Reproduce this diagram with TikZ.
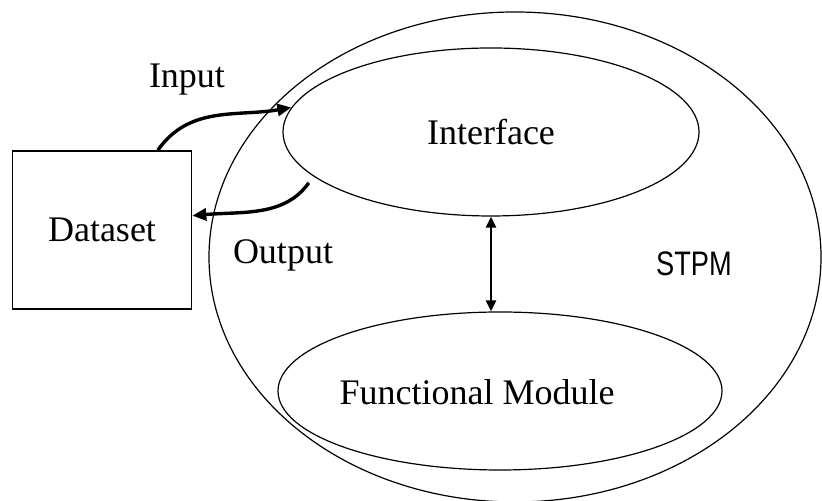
\documentclass[tikz,border=0pt]{standalone}
\usepackage{fontspec}
\setmainfont{Liberation Serif}
\newfontfamily\labelsans{Liberation Sans}
\usetikzlibrary{shapes.geometric, arrows.meta, positioning, calc}
\tikzset{
    module/.style={ellipse, draw, line width=0.6pt, inner sep=0pt},
    databox/.style={rectangle, draw, line width=0.8pt, inner sep=0pt},
    flow/.style={-{Triangle[length=7pt, width=6pt]}, line width=1.7pt},
    link/.style={{Triangle[length=5.5pt, width=5pt]}-{Triangle[length=5.5pt, width=5pt]}, line width=1.2pt}
}

\begin{document}
\begin{tikzpicture}[x=0.5pt, y=0.5pt, font=\fontsize{18}{21}\selectfont]
    \useasboundingbox (0,0) rectangle (822,501);

    \node[module, minimum width=306pt, minimum height=245pt] (stpm) at (515,244) {};
    \node[module, minimum width=208pt, minimum height=84pt] (iface) at (491,369) {Interface};
    \node[module, minimum width=222pt, minimum height=79pt] (func) at (500,110) {};
    \node (funclabel) at (477,109) {Functional Module};
    \node[databox, minimum width=89.5pt, minimum height=79pt] (data) at (102,271) {Dataset};

    \node (inlabel) at (187,421) {Input};
    \node (outlabel) at (283,246) {Output};
    \node[font=\labelsans\fontsize{17}{20}\selectfont] (stpmlabel) at (694,237) {\scalebox{0.8}[1]{STPM}};

    \draw[flow] (data.55) to[out=55, in=190] (iface.173);
    \draw[flow, shorten <=4pt] (iface.194) to[out=235, in=5] (data.9);
    \draw[link] (iface.south) -- (iface.south |- func.north);
\end{tikzpicture}
\end{document}
